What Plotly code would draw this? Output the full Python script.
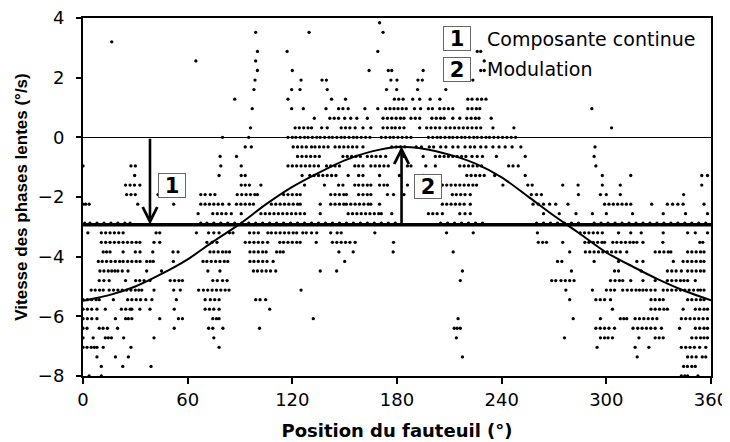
import plotly.graph_objects as go

# ---------------- data ----------------
# quantised velocity levels (°/s) and the chair positions (°) of the dots on each level
row_levels = [3.84, 3.52, 3.2, 2.88, 2.56, 2.24, 1.92, 1.6, 1.28, 0.96, 0.64, 0.32, 0.0,
              -0.32, -0.64, -0.96, -1.28, -1.6, -1.92, -2.24, -2.56, -2.88, -3.2, -3.52,
              -3.84, -4.16, -4.48, -4.8, -5.12, -5.44, -5.76, -6.08, -6.4, -6.72, -7.04,
              -7.36, -7.68, -8.0]

row_x = [
    [170],
    [99, 129.6, 172],
    [16.5],
    [100, 117, 169, 226, 228],
    [64.7, 99, 230],
    [100, 120, 164, 175, 177, 195, 228, 230],
    [98.6, 125, 137, 139.5, 176.5, 180, 192, 194.5, 223.5],
    [98, 119.6, 124.4, 140, 174, 179.8, 191.8, 208],
    [87, 117.5, 142.5, 150.5, 178.5, 181, 183.5, 189, 193, 199, 204.6, 220.6, 223, 226, 228.5, 231],
    [97, 119.6, 126.3, 139.3, 146.5, 149, 152, 161.6, 169, 173.5, 176, 178.3, 180.6, 183, 185.3,
     190, 193.5, 198, 200.3, 204.5, 207, 209.5, 212, 220.6, 223, 225.5, 227.5, 291.7],
    [132.6, 141.5, 144, 146.5, 150, 153.5, 157, 163, 172, 174.5, 177, 179.5, 182, 184, 188, 190.5,
     193, 200, 202.5, 205, 207, 212, 216, 220, 222.5, 225, 227, 234],
    [96, 121.6, 124, 126.5, 129, 131, 136.8, 140, 148, 150.5, 153, 156, 160.5, 165, 172, 174.5, 177,
     179, 181.5, 184, 193, 197, 199.5, 202, 204.5, 208, 210.5, 213, 215.5, 218, 220.5, 223, 225.5,
     228, 235, 247, 303],
    [80, 95, 117.5, 120, 122, 124.5, 127, 129, 131.5, 134, 136, 138.5, 141, 143, 145.5, 148, 150,
     152.5, 155, 157, 159.5, 162, 164.5, 171, 173.5, 176, 178, 180.5, 183, 185.5, 188, 198, 200.5,
     203, 205, 207.5, 210, 212, 214.5, 217, 219, 221.5, 224, 226, 228.5, 231, 233, 235.5, 238,
     240.5, 243, 245.5, 248],
    [93, 96.5, 120.5, 123, 125.5, 128, 131, 133, 135.5, 138, 140.5, 144.5, 147, 149.5, 152, 154.5,
     157, 160.5, 177, 179.5, 182, 184.5, 191, 194, 198.5, 201, 205, 208, 212, 215, 219, 222, 224.5,
     228, 231, 235, 238.5, 242, 246, 251, 293.5],
    [78.6, 88, 123, 125.5, 128, 130.5, 133, 135.5, 149, 151.5, 154, 156.5, 159, 163, 165.5, 168,
     170.5, 173.5, 184, 195, 202, 204.5, 207, 209.5, 212, 214.5, 217, 219.5, 223, 226, 229, 237,
     253.5, 293],
    [0, 27.5, 30, 79, 90.7, 117.5, 120, 122.5, 125, 127.5, 130, 132.5, 135, 139.6, 142, 144.5, 147,
     155.8, 158, 160.5, 165, 167.5, 170, 172.5, 175, 186, 188, 196.5, 202, 216, 218.5, 221, 223.5,
     226, 228.5, 244, 246.5, 249.5, 294],
    [29.6, 78, 90.7, 93, 125.6, 130, 132.5, 135, 137.5, 140, 142.5, 145, 152, 158, 160.5, 170, 181.4,
     195, 220, 222.5, 225, 227.5, 230, 236, 253.5, 297.7, 314, 354.7, 358],
    [24.4, 27, 29.5, 32.6, 90.7, 93, 95.4, 102, 127, 138.4, 146.5, 149, 155.8, 158, 160.5, 163, 165,
     170, 172.5, 174.5, 186, 193, 206, 208.5, 211, 213.5, 216, 218.5, 221, 223.5, 225.6, 240.7, 255,
     257.5, 275, 283.8, 297.7, 308, 354.7],
    [25, 27.5, 30, 43, 67.5, 70, 73, 75.6, 88.4, 91, 93.5, 96, 98.5, 100, 115, 117.5, 120, 122.5,
     124.5, 142, 144.5, 147, 149.5, 151, 158, 160.5, 163, 165, 174.5, 178, 184, 193, 195.5, 198, 200,
     211.7, 214, 216.5, 219, 222, 257, 260, 262.8, 284, 296.6, 300, 308, 344.3],
    [0, 1.5, 3.5, 31.4, 52, 67.5, 70, 72.5, 75, 77.5, 80, 83.7, 88, 90.5, 93, 95.5, 97.7, 108, 110.5,
     113, 115.5, 118, 120.5, 123, 124.5, 136, 142, 144.5, 147, 149.5, 151, 153.5, 156, 158.5, 161,
     163.5, 165, 170, 206, 208.5, 211, 213.5, 216, 218.5, 222, 258, 261, 264, 267.5, 271, 278, 299,
     301.5, 304, 306.5, 309, 311.5, 314, 326, 335, 338, 341, 344, 356],
    [66, 74.4, 77, 79.5, 82, 85, 90.7, 102, 104.5, 107, 109.5, 112, 114.5, 117, 119.5, 122, 124.5,
     127, 136, 152, 154.5, 157, 159.5, 162, 164.5, 167, 169.5, 171, 177, 198, 200.5, 203, 206, 216,
     219, 222, 264, 273, 282.6, 292, 300, 315, 332.6, 345.4, 358],
    [1, 4, 8, 12, 16, 20, 24, 27, 67.5, 71, 75, 79, 83, 87, 91, 95, 99, 103, 107, 111, 115, 119, 123,
     127, 131, 135, 139, 143, 147, 151, 155, 159, 163, 167, 171, 175, 179, 205, 209, 213, 217, 221,
     225, 229, 260, 264, 268, 272, 276, 280, 284, 293, 297, 301, 305, 309, 313, 317, 321, 325, 329,
     333, 337, 341, 345, 349, 353, 357],
    [2.8, 10.5, 13, 15.5, 18, 20.5, 23, 41.9, 44, 65, 72, 75, 78, 84, 86, 95.5, 98, 100.5, 106, 108,
     110.5, 113, 115.5, 118, 120.5, 122.5, 126, 128, 131, 134, 142, 145.7, 148, 167.3, 208.4, 223.7,
     260.5, 285, 287.5, 290, 292.5, 295, 297.7, 307, 314, 320, 332.6, 346.6, 351, 358],
    [10.5, 13, 15.5, 18, 20.5, 23, 25.5, 28, 30.5, 32.6, 40.7, 44, 71, 74, 76.8, 93, 95.5, 98, 100.5,
     103, 105.8, 112.8, 115, 117.5, 120, 122.5, 124.5, 133.7, 143, 145.5, 148, 150.5, 153, 156, 178,
     261, 263.5, 265.7, 275, 287.7, 290, 292.5, 295, 297.5, 299, 303.7, 306, 308.5, 311, 313.5, 315.5,
     317.5, 321, 332.4, 353.6, 355.3],
    [11.6, 13.5, 15.5, 23, 30, 32.7, 40, 51.6, 54.5, 72.8, 75, 77.5, 80, 82, 84, 95.7, 98, 100.5,
     103, 105, 111, 113, 114.8, 146.7, 154.9, 177.8, 212.2, 279, 288, 290.5, 293, 295.5, 298, 300.5,
     303, 305.5, 308, 311.7, 328, 330.5, 333, 335.5, 337, 346.6, 349, 351.5, 354, 356],
    [8.8, 11, 13.5, 16, 18.5, 21, 23, 25.6, 28, 30.5, 32.7, 36.5, 38.5, 40.3, 51.8, 68.8, 71, 73.5,
     76, 78.5, 81, 83, 95.7, 98, 100.5, 103, 105.5, 109, 150, 272, 274.5, 293, 307, 317.5, 321, 338.4,
     344, 346.5, 349, 351.5, 354, 356],
    [9.7, 12, 14.5, 16.5, 18.3, 20, 22.5, 25.8, 36.5, 45, 71.6, 78.5, 97.7, 100, 102.5, 105, 107.5,
     110.5, 136, 145.4, 217.5, 280, 304.7, 307, 320, 335, 337.5, 340, 343, 346.6, 349, 351.5, 354, 356],
    [9.3, 12, 15, 24.4, 30.2, 32.5, 35, 38.4, 50, 52.5, 55, 57, 74.4, 77, 80, 82.6, 216.3, 268.7, 271,
     274, 276.5, 279, 281.5, 302.4, 305, 307.5, 309.4, 314, 321, 328, 335, 337.5, 340, 342.5, 344.5,
     346.6, 351],
    [4.7, 7, 9.5, 11.6, 15, 17.5, 20, 22.5, 25, 27.5, 30, 32, 33.7, 40.7, 52, 55.8, 66.3, 69, 71.5,
     74, 76.5, 79, 81.5, 83.7, 125, 276.8, 292, 300, 302.5, 304.7, 309.4, 312, 314.5, 317, 319, 321,
     323, 325.5, 328, 332.6, 335, 337.5, 340, 342.5, 345, 347.5, 350, 352.5, 354, 356],
    [0, 2.5, 5, 7.5, 9.3, 17.4, 25.6, 28, 30.5, 33, 36, 39.5, 53.5, 70, 73, 75.5, 78, 99, 101.5,
     104.7, 279, 294, 296.5, 299, 302.4, 325.6, 328, 330.5, 332.6, 346.6, 349, 351.5, 354, 356],
    [0, 2.5, 5, 8, 12.8, 22, 24.5, 27, 28, 32.6, 38.4, 52.3, 70, 72.5, 75, 78, 107, 303.5, 325.6, 328,
     330.5, 333, 335, 344, 351, 353.5, 356, 358],
    [0, 2.5, 5, 8, 18.6, 24.4, 26, 28, 44, 54.7, 57, 74.4, 76.5, 78, 132, 215, 281, 296.6, 308, 310,
     311.7, 316.5, 319, 321.5, 324, 326.5, 329, 343, 345.5, 348, 350.5, 353, 355.5, 358],
    [0, 2.3, 9.3, 11.5, 14, 19.8, 52.3, 72, 74.4, 80.2, 101.2, 212.8, 214.5, 216.3, 294, 296.5, 299,
     301.5, 304.7, 315.3, 318, 320.5, 323, 325.5, 328, 331.6, 342, 351, 353.5, 356, 358],
    [0, 5.8, 12.8, 14.5, 16.3, 23.3, 40.7, 75, 214, 276, 296.6, 299, 301, 303.5, 318.7, 328, 330.3,
     332.6, 349, 351.5, 354, 356, 358],
    [0, 2.3, 4.7, 6.5, 8, 11.6, 27.5, 78, 294.7, 316.5, 324.4, 343, 345.5, 348, 350.5, 353.5, 357],
    [8, 18.6, 26, 217.5, 317.7, 346.6, 349, 351.5, 355, 357],
    [10.5, 22.8, 39, 344.3, 346.5, 349, 351],
    [3.5, 10.5, 343, 345, 346.6, 352.5],
]

# modulation curve (read along the drawn sinusoid every 15°)
curve_x = [0, 15, 30, 45, 60, 75, 90, 105, 120, 135, 150, 165, 180,
           195, 210, 225, 240, 255, 270, 285, 300, 315, 330, 345, 360]
curve_y = [-5.48, -5.29, -5.00, -4.58, -4.09, -3.48, -2.90, -2.24, -1.66, -1.19, -0.77, -0.48, -0.32,
           -0.38, -0.58, -0.88, -1.34, -1.98, -2.63, -3.24, -3.86, -4.33, -4.77, -5.15, -5.46]

# continuous component (DC level) and its extent
dc_level = -2.93
dc_x = [0, 360]

# arrows: (x position, from level, to level)
arrow1 = (38.4, 0.0, dc_level)
arrow2 = (182.6, dc_level, -0.30)

# numbered boxes and legend texts
box_labels = ["1", "2"]
box_pos = [(51, -1.62), (197.5, -1.64)]
legend_box_pos = [(214.5, 3.30), (214.5, 2.28)]
legend_texts = ["Composante continue", "Modulation"]
legend_text_x = 230.5

x_ticks = [0, 60, 120, 180, 240, 300, 360]
y_ticks = [-8, -6, -4, -2, 0, 2, 4]

# ---------------- figure ----------------
dot_x, dot_y = [], []
for lvl, xs in zip(row_levels, row_x):
    dot_x.extend(xs)
    dot_y.extend([lvl] * len(xs))

FONT = "DejaVu Sans"
fig = go.Figure()
fig.add_trace(go.Scatter(x=dot_x, y=dot_y, mode="markers",
                         marker=dict(size=3.3, color="black"), hoverinfo="skip"))
fig.add_trace(go.Scatter(x=dc_x, y=[dc_level, dc_level], mode="lines",
                         line=dict(color="black", width=3.5), hoverinfo="skip"))
fig.add_trace(go.Scatter(x=curve_x, y=curve_y, mode="lines",
                         line=dict(color="black", width=2, shape="spline", smoothing=0.8),
                         hoverinfo="skip"))

for ax_x, y0, y1 in (arrow1, arrow2):
    fig.add_annotation(x=ax_x, y=y1, ax=ax_x, ay=y0, xref="x", yref="y", axref="x", ayref="y",
                       showarrow=True, arrowhead=5, arrowsize=1.1, arrowwidth=2.6,
                       arrowcolor="black", text="")

for lab, (bx, by) in zip(box_labels, box_pos):
    fig.add_annotation(x=bx, y=by, xref="x", yref="y", text="<b>" + lab + "</b>",
                       showarrow=False, font=dict(family=FONT, size=21, color="black"),
                       bordercolor="#666666", borderwidth=1, borderpad=0, bgcolor="white",
                       width=26, height=23)
for lab, (bx, by), txt in zip(box_labels, legend_box_pos, legend_texts):
    fig.add_annotation(x=bx, y=by, xref="x", yref="y", text="<b>" + lab + "</b>",
                       showarrow=False, font=dict(family=FONT, size=21, color="black"),
                       bordercolor="#666666", borderwidth=1, borderpad=0, bgcolor="white",
                       width=26, height=23)
    fig.add_annotation(x=legend_text_x, y=by, xref="x", yref="y", text=txt, xanchor="left",
                       showarrow=False, font=dict(family=FONT, size=19, color="black"))

# the page body adds an 8 px margin, so the figure is 16 px smaller and margins shifted by 8 px
fig.update_layout(
    width=722, height=434,
    margin=dict(l=75, r=19, t=10, b=66),
    paper_bgcolor="white", plot_bgcolor="white",
    showlegend=False,
    font=dict(family=FONT, size=18, color="black"),
)
fig.update_xaxes(range=[0, 360], tickvals=x_ticks, showgrid=False, zeroline=False,
                 showline=True, mirror=True, linecolor="black", linewidth=2,
                 ticks="outside", ticklen=6, tickwidth=2, tickcolor="black",
                 tickfont=dict(family=FONT, size=18), automargin=False,
                 ticklabeloverflow="allow",
                 title=dict(text="<b>Position du fauteuil (°)</b>",
                            font=dict(family=FONT, size=18), standoff=16))
fig.update_yaxes(range=[-8, 4], tickvals=y_ticks, showgrid=False,
                 zeroline=True, zerolinecolor="black", zerolinewidth=1,
                 showline=True, mirror=True, linecolor="black", linewidth=2,
                 ticks="outside", ticklen=5, tickwidth=2, tickcolor="black",
                 tickfont=dict(family=FONT, size=18), ticklabelstandoff=8, automargin=False,
                 ticklabeloverflow="allow",
                 title=dict(text="<b>Vitesse des phases lentes (°/s)</b>",
                            font=dict(family="Liberation Sans", size=17), standoff=6))

fig.write_html("out.html")
